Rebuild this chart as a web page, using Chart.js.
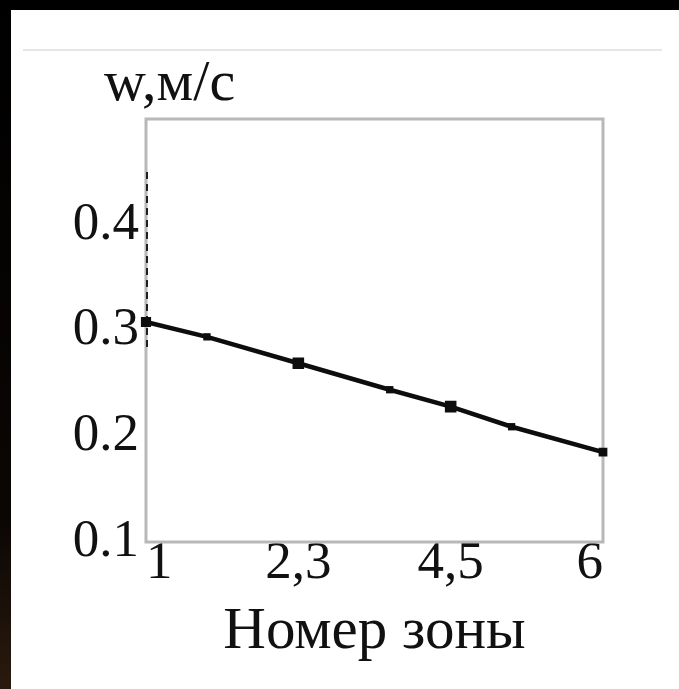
<!DOCTYPE html>
<html>
<head>
<meta charset="utf-8">
<script src="https://cdn.jsdelivr.net/npm/chart.js@4/dist/chart.umd.min.js"></script>
<style>
  html, body { margin: 0; padding: 0; background: #fff; }
  canvas { display: block; }
</style>
</head>
<body>
<canvas id="chart" width="679" height="689"></canvas>
<script>
// zone positions along the axis (0 = zone 1, 1 = zones 2,3, 2 = zones 4,5, 3 = zone 6)
const zonePos = [0, 0.4, 1, 1.6, 2, 2.4, 3];
const speed = [0.308, 0.294, 0.269, 0.244, 0.228, 0.209, 0.185]; // w, m/s
const markerSize = [4, 2, 5, 2, 5, 2, 3];
const xTickLabels = ['1', '2,3', '4,5', '6'];
const yTicks = [0.1, 0.2, 0.3, 0.4];
const yUnit = 'w,м/с';
const xTitle = 'Номер зоны';

const serif = "'Liberation Serif', 'DejaVu Serif', serif";

// frame, faint rule, unit label and the plot box
const framePlugin = {
    id: 'frame',
    beforeDraw(chart) {
        const ctx = chart.ctx;
        ctx.save();
        ctx.fillStyle = '#fff';
        ctx.fillRect(0, 0, chart.width, chart.height);
        const g = ctx.createLinearGradient(0, 0, 0, chart.height);
        g.addColorStop(0, '#000');
        g.addColorStop(0.75, '#0a0604');
        g.addColorStop(1, '#2a1a0e');
        ctx.fillStyle = g;
        ctx.fillRect(0, 0, 11, chart.height);
        ctx.fillStyle = '#000';
        ctx.fillRect(0, 0, chart.width, 10);
        ctx.strokeStyle = '#e6e6e6';
        ctx.lineWidth = 2;
        ctx.beginPath();
        ctx.moveTo(23, 50);
        ctx.lineTo(662, 50);
        ctx.stroke();

        ctx.fillStyle = '#111';
        ctx.font = '58px ' + serif;
        ctx.textBaseline = 'alphabetic';
        ctx.textAlign = 'left';
        ctx.fillText(yUnit, 104, 100);
        ctx.restore();
    },
    beforeDatasetsDraw(chart) {
        const { left, top, right, bottom } = chart.chartArea;
        const ctx = chart.ctx;
        ctx.save();
        ctx.strokeStyle = '#b8b8b8';
        ctx.lineWidth = 3;
        ctx.strokeRect(left, top, right - left, bottom - top);
        // dashed dark trace on the left edge, as in the scan
        const y = chart.scales.y;
        ctx.strokeStyle = '#222';
        ctx.lineWidth = 2;
        ctx.setLineDash([7, 5]);
        ctx.beginPath();
        ctx.moveTo(left + 1, y.getPixelForValue(0.45));
        ctx.lineTo(left + 1, y.getPixelForValue(0.28));
        ctx.stroke();
        ctx.restore();
    }
};

new Chart(document.getElementById('chart'), {
    type: 'line',
    data: {
        datasets: [{
            data: zonePos.map((x, i) => ({ x: x, y: speed[i] })),
            borderColor: '#0d0d0d',
            backgroundColor: '#0d0d0d',
            borderWidth: 4.5,
            pointStyle: 'rect',
            pointRadius: markerSize,
            tension: 0,
            clip: false
        }]
    },
    options: {
        responsive: false,
        animation: false,
        layout: { padding: { left: 60, top: 119, right: 76, bottom: 0 } },
        plugins: {
            legend: { display: false },
            tooltip: { enabled: false }
        },
        scales: {
            x: {
                type: 'linear',
                min: 0,
                max: 3,
                afterBuildTicks(scale) {
                    scale.ticks = xTickLabels.map((_, i) => ({ value: i }));
                },
                afterFit(scale) { scale.height = 147; },
                grid: { display: false },
                border: { display: false },
                ticks: {
                    align: 'inner',
                    padding: -12,
                    maxRotation: 0,
                    color: '#111',
                    font: { family: serif, size: 53, lineHeight: 1 },
                    callback: (v) => xTickLabels[v]
                },
                title: {
                    display: true,
                    text: xTitle,
                    color: '#111',
                    font: { family: serif, size: 59 },
                    padding: { top: 0, bottom: 21 }
                }
            },
            y: {
                min: 0.1,
                max: 0.5,
                afterBuildTicks(scale) {
                    scale.ticks = yTicks.map(v => ({ value: v }));
                },
                afterFit(scale) { scale.width = 86; },
                grid: { display: false },
                border: { display: false },
                ticks: {
                    padding: -1,
                    color: '#111',
                    font: { family: serif, size: 53 },
                    callback: (v) => v.toFixed(1)
                }
            }
        }
    },
    plugins: [framePlugin]
});
</script>
</body>
</html>
